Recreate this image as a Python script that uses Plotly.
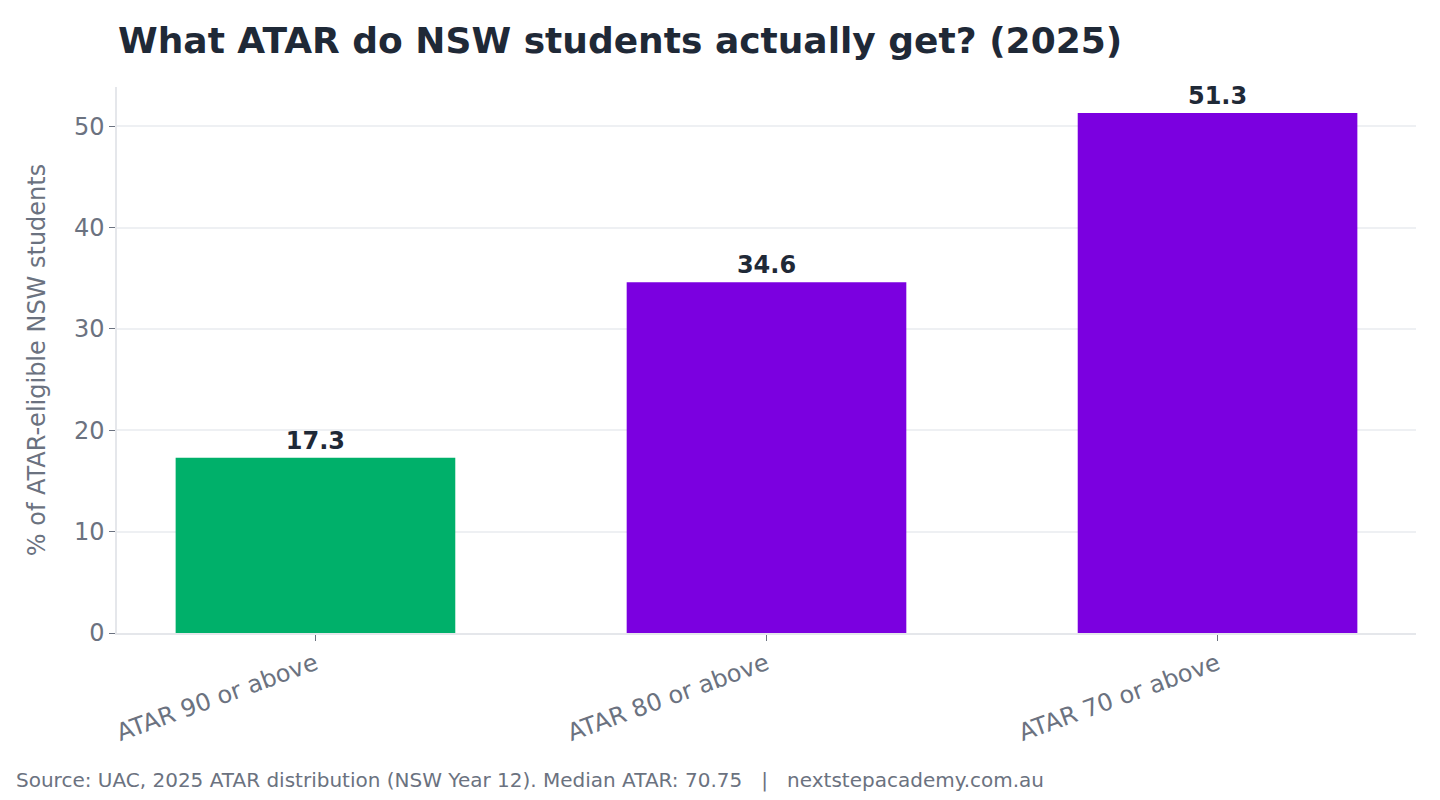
import plotly.graph_objects as go

categories = ["ATAR 90 or above", "ATAR 80 or above", "ATAR 70 or above"]
percent = [17.3, 34.6, 51.3]
bar_colors = ["#00B06A", "#7B00E0", "#7B00E0"]

TITLE = "What ATAR do NSW students actually get? (2025)"
Y_LABEL = "% of ATAR-eligible NSW students"
FOOTER = "Source: UAC, 2025 ATAR distribution (NSW Year 12). Median ATAR: 70.75   |   nextstepacademy.com.au"

FONT = "DejaVu Sans"
DARK = "#1f2937"
GREY = "#6b7280"

# page body has an 8px margin, so the figure is a bit smaller than the window
W, H = 1424, 784
L, R, T, B = 109, 16, 79, 159


def build_fig():
    fig = go.Figure(go.Bar(
        x=categories,
        y=percent,
        marker=dict(color=bar_colors, line=dict(width=0)),
        width=0.62,
        text=["{:.1f}".format(v) for v in percent],
        textposition="outside",
        textfont=dict(family=FONT, size=24, color=DARK, weight="bold"),
        cliponaxis=False,
        showlegend=False,
    ))

    plot_w = W - L - R
    plot_h = H - T - B

    fig.update_layout(
        width=W,
        height=H,
        paper_bgcolor="white",
        plot_bgcolor="white",
        margin=dict(l=L, r=R, t=T, b=B),
        font=dict(family=FONT, color=GREY),
        title=dict(
            text="<b>" + TITLE + "</b>",
            font=dict(family=FONT, size=36, color=DARK),
            x=1 / plot_w, xref="paper", xanchor="left",
            y=1 - 32 / H, yref="container", yanchor="middle",
        ),
    )

    fig.update_xaxes(
        range=[-0.44, 2.44],
        tickangle=-20,
        tickfont=dict(family=FONT, size=24, color=GREY),
        ticks="outside", ticklen=6, tickcolor=GREY,
        showline=True, linecolor="#e5e7eb", linewidth=1.5,
        showgrid=False,
    )
    fig.update_yaxes(
        range=[0, 53.87],
        tickvals=[0, 10, 20, 30, 40, 50],
        tickfont=dict(family=FONT, size=24, color=GREY),
        ticks="outside", ticklen=6, tickcolor=GREY,
        showline=True, linecolor="#e5e7eb", linewidth=1.5,
        showgrid=True, gridcolor="#eef0f3", gridwidth=1.5,
        zeroline=False,
        title=dict(text=Y_LABEL, font=dict(family=FONT, size=24, color=GREY), standoff=22),
    )

    fig.add_annotation(
        text=FOOTER,
        xref="paper", yref="paper",
        x=(6 - L) / plot_w, y=-(772 - (H - B)) / plot_h,
        xanchor="left", yanchor="middle",
        showarrow=False,
        font=dict(family=FONT, size=20, color=GREY),
    )
    return fig


def main():
    fig = build_fig()
    fig.write_html("out.html")


if __name__ == "__main__":
    main()
